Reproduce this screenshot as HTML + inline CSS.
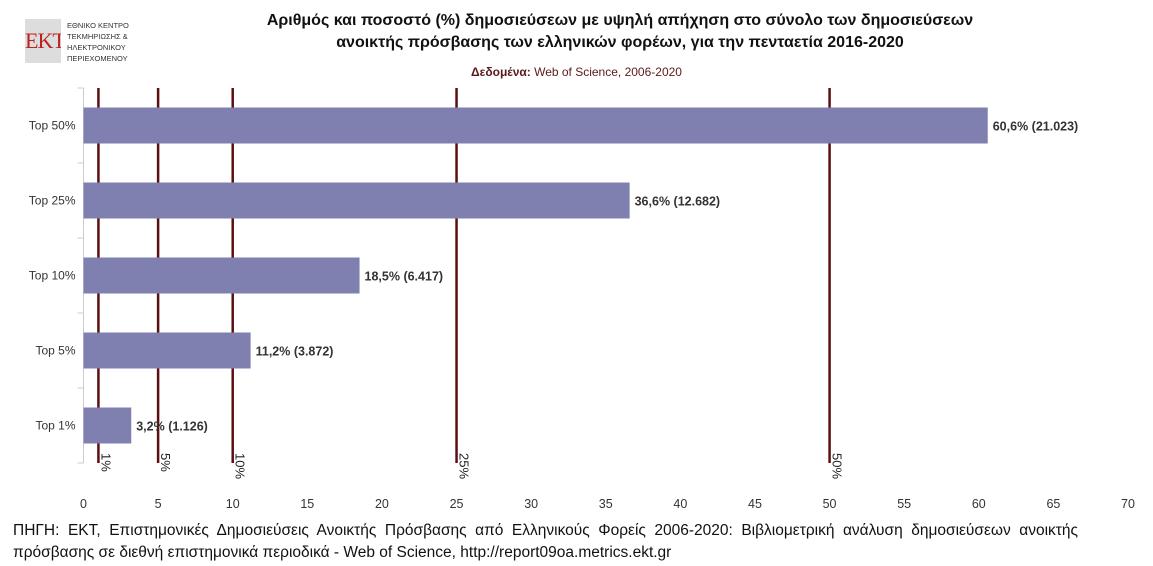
<!DOCTYPE html>
<html><head><meta charset="utf-8"><style>
body{margin:0;width:1153px;height:566px;background:#fff;overflow:hidden;font-family:"Liberation Sans","DejaVu Sans",sans-serif;position:relative}
.t{position:absolute;left:170px;width:900px;text-align:center;font-weight:bold;font-size:16px;color:#111;line-height:22px;top:10px}
.foot{position:absolute;left:13px;width:1065px;top:520px;font-size:15.5px;line-height:22px;color:#111;text-align:justify;text-align-last:left}
</style></head><body>
<div style="position:absolute;left:25px;top:19px;width:36px;height:44px;background:#ddd;color:#b22;font-family:'Liberation Serif',serif;font-size:22px;line-height:44px;text-align:center;letter-spacing:-1px;overflow:hidden">EKT</div>
<div style="position:absolute;left:67px;top:20px;font-size:7.5px;line-height:11px;color:#333">ΕΘΝΙΚΟ ΚΕΝΤΡΟ<br>ΤΕΚΜΗΡΙΩΣΗΣ &amp;<br>ΗΛΕΚΤΡΟΝΙΚΟΥ<br>ΠΕΡΙΕΧΟΜΕΝΟΥ</div>
<div class="t">Αριθμός και ποσοστό (%) δημοσιεύσεων με υψηλή απήχηση στο σύνολο των δημοσιεύσεων<br>ανοικτής πρόσβασης των ελληνικών φορέων, για την πενταετία 2016-2020</div>
<div style="position:absolute;left:0;width:1153px;top:65px;text-align:center;font-size:12px;color:#5a1a1a"><b>Δεδομένα:</b> Web of Science, 2006-2020</div>
<svg id="c" width="1153" height="520" style="position:absolute;left:0;top:0"></svg>
<div class="foot">ΠΗΓΗ: ΕΚΤ, Επιστημονικές Δημοσιεύσεις Ανοικτής Πρόσβασης από Ελληνικούς Φορείς 2006-2020: Βιβλιομετρική ανάλυση δημοσιεύσεων ανοικτής πρόσβασης σε διεθνή επιστημονικά περιοδικά - Web of Science, http://report09oa.metrics.ekt.gr</div>
<script>
const categories=["Top 50%","Top 25%","Top 10%","Top 5%","Top 1%"];
const values=[60.6,36.6,18.5,11.2,3.2];
const counts=["21.023","12.682","6.417","3.872","1.126"];
const refLines=[1,5,10,25,50];
const xTicks=[0,5,10,15,20,25,30,35,40,45,50,55,60,65,70];
const NS="http://www.w3.org/2000/svg",svg=document.getElementById('c');
const x0=83.5,x1=1128,xmax=70,yTop=88,yBot=463;
const X=v=>x0+(x1-x0)*v/xmax;
const band=(yBot-yTop)/categories.length;
const Y=i=>yTop+band*(i+0.5);
function mk(t,a,txt){const e=document.createElementNS(NS,t);for(const k in a)e.setAttribute(k,a[k]);if(txt!=null)e.textContent=txt;svg.appendChild(e);return e;}
let e=mk('line',{x1:x0,x2:x0,y1:yTop,y2:yBot,stroke:'#ccc'});


for(let i=0;i<=categories.length;i++){e=mk('line',{x1:x0-6,x2:x0,y1:yTop+band*i,y2:yTop+band*i,stroke:'#ccc'});

}
refLines.forEach(r=>{e=mk('line',{x1:X(r),x2:X(r),y1:yTop,y2:yBot,stroke:'#5c0f12','stroke-width':2.5});


const tx=X(r)+3,ty=yBot-10;
e=mk('text',{x:tx,y:ty,transform:`rotate(90 ${tx} ${ty})`,'font-size':13,fill:'#222'},r+'%');

});
categories.forEach((c,i)=>{const y=Y(i);
e=mk('rect',{x:x0,y:y-18,width:X(values[i])-x0,height:36,fill:'#7f7fb0'});


e=mk('text',{x:x0-8,y:y+4,'text-anchor':'end','font-size':12,fill:'#333'},c);


e=mk('text',{x:X(values[i])+5,y:y+5,'font-size':12.5,'font-weight':'bold',fill:'#333'},values[i].toFixed(1).replace('.',',')+'% ('+counts[i]+')');

});
xTicks.forEach(t=>{e=mk('text',{x:X(t),y:508,'text-anchor':'middle','font-size':12.5,fill:'#333'},t);

});
</script>
</body></html>
